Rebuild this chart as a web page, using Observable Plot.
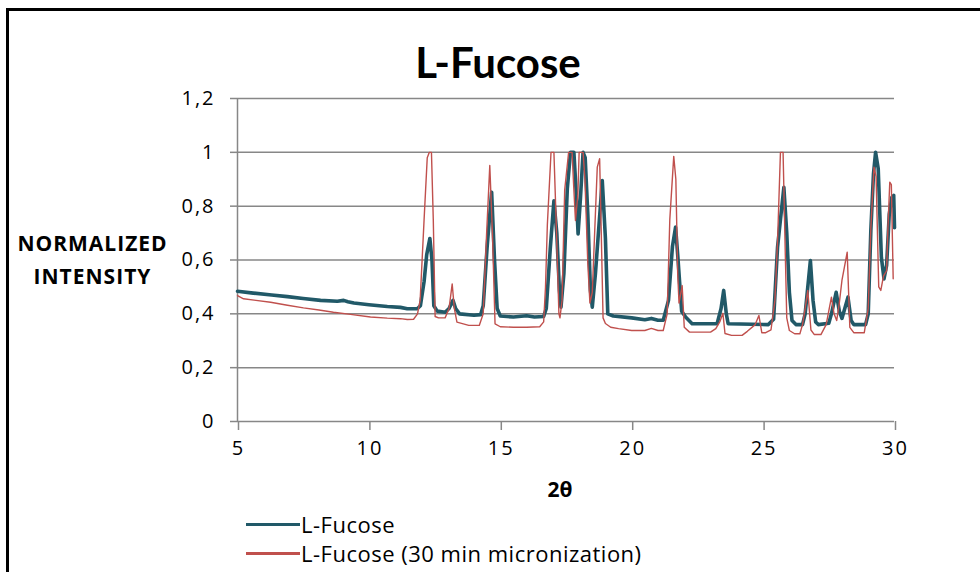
<!DOCTYPE html>
<html><head><meta charset="utf-8">
<script src="https://cdn.jsdelivr.net/npm/d3@7"></script>
<script src="https://cdn.jsdelivr.net/npm/@observablehq/plot@0.6"></script>
<style>
body{margin:0;background:#fff;}
#wrap{position:relative;width:980px;height:572px;overflow:hidden;background:#fff;}
#frame{position:absolute;left:6px;top:8px;width:1000px;height:600px;border-top:3px solid #000;border-left:3px solid #000;box-sizing:border-box;}
#chart{position:absolute;left:0;top:0;}
#title{position:absolute;left:398px;width:200px;top:41px;text-align:center;font:bold 42px Lato, sans-serif;line-height:42px;color:#000;}
.leg{position:absolute;left:246px;display:flex;align-items:center;font:22px "Open Sans", sans-serif;letter-spacing:0.5px;color:#000;height:30px;}
.leg .sw{width:54px;height:3px;margin-right:1px;}
#chart g[aria-label="y-axis tick label"] text{letter-spacing:2px;}
#chart g[aria-label="x-axis tick label"] text{letter-spacing:2px;}
#chart g.ylab text{letter-spacing:1px;}
</style></head>
<body>
<div id="wrap">
  <div id="frame"></div>
  <div id="chart"></div>
  <div id="title"></div>
  <div id="legend"></div>
</div>
<script>
// ---- data ----
const chartTitle = "L-Fucose";
const xLabel = "2θ";
const yLabel = "NORMALIZED\nINTENSITY";
const seriesNames = ["L-Fucose", "L-Fucose (30 min micronization)"];
const seriesColors = ["#215968", "#c0504d"];
const xTicks = [5, 10, 15, 20, 25, 30];
const yTicks = [0, 0.2, 0.4, 0.6, 0.8, 1, 1.2];
const yTickLabels = ["0", "0,2", "0,4", "0,6", "0,8", "1", "1,2"];

const xFucose = [5.0,5.6,6.3,6.9,7.5,8.16,8.8,9.04,9.2,9.43,10.0,10.7,11.2,11.46,11.84,11.96,12.1,12.2,12.32,12.4,12.47,12.6,12.9,13.05,13.2,13.3,13.45,14.0,14.25,14.35,14.5,14.67,14.78,14.88,15.0,15.5,16.0,16.3,16.65,16.75,16.9,17.04,17.15,17.25,17.31,17.42,17.55,17.67,17.8,17.9,17.96,18.05,18.15,18.23,18.33,18.43,18.5,18.62,18.88,19.0,19.09,19.3,20.0,20.5,20.75,21.0,21.2,21.4,21.55,21.67,21.75,21.9,22.05,22.3,23.25,23.4,23.5,23.6,23.67,25.2,25.4,25.55,25.79,25.9,26.0,26.1,26.25,26.5,26.6,26.8,26.9,27.0,27.1,27.5,27.6,27.78,27.9,28.0,28.23,28.35,28.45,28.9,29.0,29.1,29.2,29.28,29.38,29.5,29.6,29.7,29.8,29.9,29.97,30.0];
const yFucose = [0.484,0.477,0.470,0.464,0.457,0.450,0.447,0.450,0.445,0.440,0.434,0.427,0.424,0.419,0.419,0.43,0.52,0.62,0.68,0.60,0.43,0.410,0.406,0.42,0.45,0.42,0.400,0.395,0.397,0.43,0.65,0.852,0.60,0.42,0.392,0.388,0.393,0.388,0.390,0.42,0.64,0.82,0.70,0.487,0.425,0.55,0.865,1.0,1.0,0.83,0.697,0.83,1.0,0.98,0.77,0.487,0.425,0.55,0.895,0.68,0.40,0.392,0.385,0.378,0.383,0.376,0.376,0.45,0.65,0.722,0.62,0.41,0.388,0.363,0.363,0.42,0.487,0.40,0.363,0.360,0.380,0.648,0.87,0.70,0.48,0.375,0.360,0.360,0.40,0.598,0.45,0.370,0.360,0.365,0.40,0.48,0.41,0.383,0.462,0.375,0.360,0.360,0.40,0.71,0.92,1.0,0.94,0.61,0.53,0.58,0.77,0.833,0.84,0.72];

const xMicron = [5.0,5.23,6.26,6.9,7.51,8.1,8.65,9.3,10.06,10.7,11.2,11.46,11.7,11.85,11.95,12.1,12.22,12.3,12.38,12.45,12.52,12.65,12.9,13.05,13.17,13.25,13.35,13.8,14.2,14.35,14.48,14.6,14.7,14.8,15.0,15.5,16.0,16.5,16.65,16.72,16.79,16.93,17.04,17.13,17.23,17.27,17.35,17.45,17.6,17.73,17.8,17.86,17.95,18.0,18.15,18.22,18.33,18.41,18.5,18.69,18.78,18.84,18.91,19.0,19.2,19.5,20.0,20.5,20.75,21.0,21.2,21.35,21.45,21.6,21.68,21.75,21.8,21.92,22.0,22.2,23.0,23.2,23.35,23.47,23.55,23.8,24.2,24.4,24.7,24.84,24.95,25.1,25.3,25.45,25.55,25.66,25.76,25.85,25.9,26.0,26.2,26.4,26.5,26.6,26.7,26.82,26.95,27.2,27.4,27.6,27.7,27.8,27.9,28.0,28.2,28.3,28.45,28.85,29.0,29.1,29.22,29.3,29.4,29.48,29.58,29.7,29.75,29.82,29.88,29.95];
const yMicron = [0.468,0.456,0.443,0.432,0.422,0.414,0.406,0.398,0.388,0.384,0.382,0.379,0.380,0.40,0.45,0.75,0.98,1.0,1.0,0.75,0.39,0.385,0.385,0.42,0.511,0.42,0.369,0.357,0.357,0.40,0.70,0.951,0.70,0.363,0.352,0.350,0.350,0.352,0.37,0.50,0.73,1.0,1.0,0.73,0.40,0.385,0.45,0.86,1.0,1.0,0.86,0.747,0.84,1.0,1.0,0.90,0.586,0.44,0.48,0.945,0.976,0.71,0.385,0.364,0.350,0.345,0.338,0.338,0.346,0.338,0.338,0.40,0.75,0.985,0.90,0.55,0.44,0.505,0.35,0.332,0.332,0.345,0.37,0.402,0.327,0.320,0.320,0.335,0.36,0.394,0.33,0.33,0.34,0.45,0.67,1.0,1.0,0.60,0.385,0.338,0.326,0.326,0.36,0.42,0.487,0.34,0.323,0.323,0.36,0.462,0.40,0.375,0.44,0.524,0.629,0.35,0.330,0.330,0.42,0.72,0.945,0.91,0.50,0.487,0.54,0.56,0.72,0.889,0.88,0.53];

// ---- build ----
const fucose = xFucose.map((x, i) => ({x, y: yFucose[i]}));
const micron = xMicron.map((x, i) => ({x, y: yMicron[i]}));
const gridColor = "#878787";

const plot = Plot.plot({
  width: 980,
  height: 505,
  marginLeft: 237,
  marginRight: 86,
  marginTop: 98,
  marginBottom: 84,
  style: {fontFamily: "'Open Sans', sans-serif", fontSize: "20px", color: "#000", background: "transparent"},
  x: {domain: [xTicks[0], xTicks[xTicks.length - 1]]},
  y: {domain: [yTicks[0], yTicks[yTicks.length - 1]]},
  marks: [
    Plot.gridY(yTicks, {stroke: gridColor, strokeOpacity: 1, strokeWidth: 1.5}),
    Plot.ruleX([xTicks[0]], {stroke: gridColor, strokeWidth: 1.5}),
    Plot.axisY({ticks: yTicks, tickFormat: (d, i) => yTickLabels[i], tickSize: 7, tickPadding: 15, stroke: gridColor, strokeWidth: 1.5, fill: "#000", fontSize: 20, label: null}),
    Plot.axisX({ticks: xTicks, tickSize: 9, tickPadding: 10, dx: 1, stroke: gridColor, strokeWidth: 1.5, fill: "#000", fontSize: 20, label: null}),
    Plot.line(fucose, {x: "x", y: "y", stroke: seriesColors[0], strokeWidth: 3.6, curve: "linear"}),
    Plot.line(micron, {x: "x", y: "y", stroke: seriesColors[1], strokeWidth: 1.4, curve: "linear"}),
    Plot.text([xLabel], {frameAnchor: "bottom", dy: 75, dx: -6, text: d => d, fontWeight: "bold", fontSize: 21, fill: "#000"}),
    Plot.text([yLabel], {frameAnchor: "left", dx: -145, dy: -3, text: d => d, fontWeight: "bold", fontSize: 21, fill: "#000", lineHeight: 1.55, textAnchor: "middle", className: "ylab"})
  ]
});
document.getElementById("chart").appendChild(plot);
document.getElementById("title").textContent = chartTitle;

const legend = document.getElementById("legend");
seriesNames.forEach((name, i) => {
  const row = document.createElement("div");
  row.className = "leg";
  row.style.top = (509 + i * 29) + "px";
  const sw = document.createElement("div");
  sw.className = "sw";
  sw.style.background = seriesColors[i];
  const tx = document.createElement("span");
  tx.textContent = name;
  row.appendChild(sw); row.appendChild(tx);
  legend.appendChild(row);
});
</script>
</body></html>
